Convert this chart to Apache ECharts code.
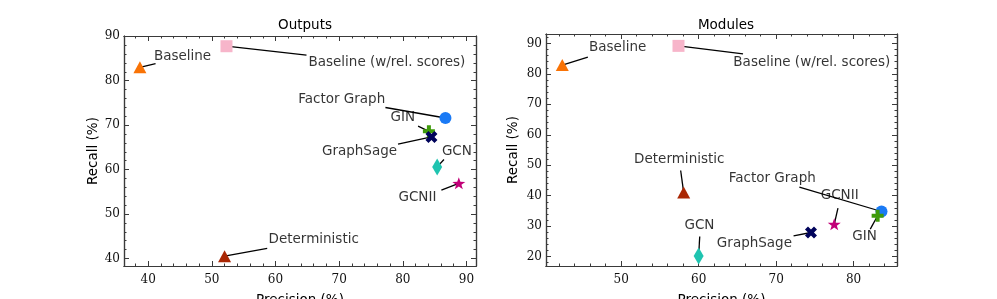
<!DOCTYPE html>
<html>
<head>
<meta charset="utf-8">
<script src="https://cdn.jsdelivr.net/npm/echarts@6/dist/echarts.min.js"></script>
<style>html,body{margin:0;padding:0;background:#fff;}#c{width:997px;height:299px;}</style>
</head>
<body>
<div id="c"></div>
<script>
// ---- data ----
const methods = ["Baseline", "Baseline (w/rel. scores)", "Deterministic", "Factor Graph", "GIN", "GraphSage", "GCN", "GCNII"];

const outPrecision = [38.7, 52.3, 52.0, 86.7, 84.1, 84.5, 85.4, 88.8];
const outRecall    = [83.0, 87.75, 40.5, 71.6, 68.6, 67.35, 60.6, 56.9];
const outLabelX    = [45.4, 77.5, 66.0, 70.4, 80.0, 73.2, 88.5, 82.3];
const outLabelY    = [85.35, 84.2, 44.27, 75.83, 71.7, 64.0, 64.0, 53.7];
const outLeaderX   = [41.16, 64.87, 58.7, 77.27, 82.4, 79.25, 86.47, 86.06];
const outLeaderY   = [83.86, 85.73, 42.25, 73.96, 69.76, 65.7, 62.27, 55.36];

const modPrecision = [42.4, 57.4, 58.07, 83.6, 83.1, 74.5, 60.0, 77.5];
const modRecall    = [82.9, 89.2, 41.0, 34.8, 33.4, 27.9, 20.2, 30.6];
const modLabelX    = [49.55, 74.6, 57.5, 69.5, 81.4, 67.2, 60.1, 78.2];
const modLabelY    = [88.65, 83.9, 51.8, 45.76, 26.57, 24.4, 30.1, 39.95];
const modLeaderX   = [45.7, 65.73, 57.68, 73.0, 82.15, 72.25, 60.14, 77.98];
const modLeaderY   = [85.5, 86.6, 48.26, 42.8, 29.0, 26.8, 26.57, 35.9];

const outXTicks = [40, 50, 60, 70, 80, 90];
const outYTicks = [40, 50, 60, 70, 80, 90];
const modXTicks = [50, 60, 70, 80];
const modYTicks = [20, 30, 40, 50, 60, 70, 80, 90];

const titles = ["Outputs", "Modules"];
const xName = "Precision (%)";
const yName = "Recall (%)";

// ---- styles ----
const STAR = 'path://M0,-10 L2.35,-3.24 L9.51,-3.09 L3.8,1.24 L5.88,8.09 L0,4 L-5.88,8.09 L-3.8,1.24 L-9.51,-3.09 L-2.35,-3.24 Z';
const PLUS = 'path://M-2,-6 L2,-6 L2,-2 L6,-2 L6,2 L2,2 L2,6 L-2,6 L-2,2 L-6,2 L-6,-2 L-2,-2 Z';
const XSYM = 'path://M2.83,-5.66 L5.66,-2.83 L2.83,0 L5.66,2.83 L2.83,5.66 L0,2.83 L-2.83,5.66 L-5.66,2.83 L-2.83,0 L-5.66,-2.83 L-2.83,-5.66 L0,-2.83 Z';
const style = {
  "Baseline": {symbol: 'triangle', size: [13, 12], color: '#f97306'},
  "Baseline (w/rel. scores)": {symbol: 'rect', size: [12, 12], color: '#f7b5ca'},
  "Deterministic": {symbol: 'triangle', size: [13, 12], color: '#aa2704'},
  "Factor Graph": {symbol: 'circle', size: 12, color: '#1a7af5'},
  "GIN": {symbol: PLUS, size: 12, color: '#3f9b0b'},
  "GraphSage": {symbol: XSYM, size: 12, color: '#00035b'},
  "GCN": {symbol: 'diamond', size: [10, 17], color: '#1fc4b0'},
  "GCNII": {symbol: STAR, size: [13, 12], color: '#c20078'}
};

const AXC = '#3a3a3a';
const SANS = 'DejaVu Sans';
const SERIF = 'DejaVu Serif';

function minorOf(min, max, step) {
  const out = [];
  const start = Math.ceil(min / step) * step;
  for (let v = start; v <= max + 1e-9; v += step) out.push(+v.toFixed(6));
  return out;
}

const grids = [
  {left: 124, top: 36, width: 352, height: 230, containLabel: false, outerBoundsMode: 'none'},
  {left: 546, top: 34, width: 351, height: 232, containLabel: false, outerBoundsMode: 'none'}
];
const ranges = [
  {x: [36.2, 91.5], y: [38.3, 90.05], xt: outXTicks, yt: outYTicks},
  {x: [40.3, 85.6], y: [16.9, 93.1], xt: modXTicks, yt: modYTicks}
];

const xAxes = [], yAxes = [], series = [];
ranges.forEach((r, gi) => {
  const xMinor = minorOf(r.x[0], r.x[1], 2);
  const yMinor = minorOf(r.y[0], r.y[1], 2);
  const base = {type: 'value', gridIndex: gi, splitLine: {show: false},
    axisLine: {show: true, onZero: false, lineStyle: {color: AXC, width: 1.2}}};
  const xs = xAxes.length;
  xAxes.push(Object.assign({}, base, {min: r.x[0], max: r.x[1], position: 'bottom',
    name: xName, nameLocation: 'middle', nameGap: 27,
    nameTextStyle: {fontFamily: SANS, fontSize: 13.5, color: '#000'},
    axisTick: {inside: true, length: 5, customValues: r.xt, lineStyle: {color: AXC}},
    axisLabel: {customValues: r.xt, fontFamily: SERIF, fontSize: 12, color: '#111', margin: 8}}));
  xAxes.push(Object.assign({}, base, {min: r.x[0], max: r.x[1], position: 'bottom',
    axisTick: {inside: true, length: 2.5, customValues: xMinor, lineStyle: {color: AXC}},
    axisLabel: {show: false}}));
  xAxes.push(Object.assign({}, base, {min: r.x[0], max: r.x[1], position: 'top',
    axisTick: {inside: true, length: 5, customValues: r.xt, lineStyle: {color: AXC}},
    axisLabel: {show: false}}));
  xAxes.push(Object.assign({}, base, {min: r.x[0], max: r.x[1], position: 'top',
    axisTick: {inside: true, length: 2.5, customValues: xMinor, lineStyle: {color: AXC}},
    axisLabel: {show: false}}));
  const ys = yAxes.length;
  yAxes.push(Object.assign({}, base, {min: r.y[0], max: r.y[1], position: 'left',
    name: yName, nameLocation: 'middle', nameGap: gi === 0 ? 24 : 26,
    nameTextStyle: {fontFamily: SANS, fontSize: 13.5, color: '#000'},
    axisTick: {inside: true, length: 5, customValues: r.yt, lineStyle: {color: AXC}},
    axisLabel: {customValues: r.yt, fontFamily: SERIF, fontSize: 12, color: '#111', margin: 4}}));
  yAxes.push(Object.assign({}, base, {min: r.y[0], max: r.y[1], position: 'left',
    axisTick: {inside: true, length: 2.5, customValues: yMinor, lineStyle: {color: AXC}},
    axisLabel: {show: false}}));
  yAxes.push(Object.assign({}, base, {min: r.y[0], max: r.y[1], position: 'right',
    axisTick: {inside: true, length: 5, customValues: r.yt, lineStyle: {color: AXC}},
    axisLabel: {show: false}}));
  yAxes.push(Object.assign({}, base, {min: r.y[0], max: r.y[1], position: 'right',
    axisTick: {inside: true, length: 2.5, customValues: yMinor, lineStyle: {color: AXC}},
    axisLabel: {show: false}}));

  const P = gi === 0 ? outPrecision : modPrecision;
  const R = gi === 0 ? outRecall : modRecall;
  const LX = gi === 0 ? outLabelX : modLabelX;
  const LY = gi === 0 ? outLabelY : modLabelY;
  const AX = gi === 0 ? outLeaderX : modLeaderX;
  const AY = gi === 0 ? outLeaderY : modLeaderY;

  series.push({
    type: 'lines', coordinateSystem: 'cartesian2d', xAxisIndex: xs, yAxisIndex: ys,
    silent: true, z: 2,
    lineStyle: {color: '#000', width: 1.3, opacity: 1},
    data: methods.map((m, i) => ({coords: [[AX[i], AY[i]], [P[i], R[i]]]}))
  });
  series.push({
    type: 'scatter', xAxisIndex: xs, yAxisIndex: ys, z: 3, silent: true,
    data: methods.map((m, i) => ({
      name: m, value: [P[i], R[i]],
      symbol: style[m].symbol, symbolSize: style[m].size,
      itemStyle: {color: style[m].color, opacity: 1}
    }))
  });
  series.push({
    type: 'scatter', xAxisIndex: xs, yAxisIndex: ys, z: 4, silent: true,
    symbolSize: 0,
    label: {show: true, position: 'inside', formatter: p => p.name,
      fontFamily: SANS, fontSize: 13.5, color: '#000', textBorderWidth: 0},
    data: methods.map((m, i) => ({name: m, value: [LX[i], LY[i]]}))
  });
});

const chart = echarts.init(document.getElementById('c'), null, {renderer: 'canvas'});
chart.setOption({
  animation: false,
  backgroundColor: '#fff',
  title: [
    {text: titles[0], left: 300, top: 13, textAlign: 'center',
      textStyle: {fontFamily: SANS, fontSize: 13.5, fontWeight: 'normal', color: '#000'}},
    {text: titles[1], left: 721, top: 13, textAlign: 'center',
      textStyle: {fontFamily: SANS, fontSize: 13.5, fontWeight: 'normal', color: '#000'}}
  ],
  grid: grids,
  xAxis: xAxes,
  yAxis: yAxes,
  series: series
});
</script>
</body>
</html>
